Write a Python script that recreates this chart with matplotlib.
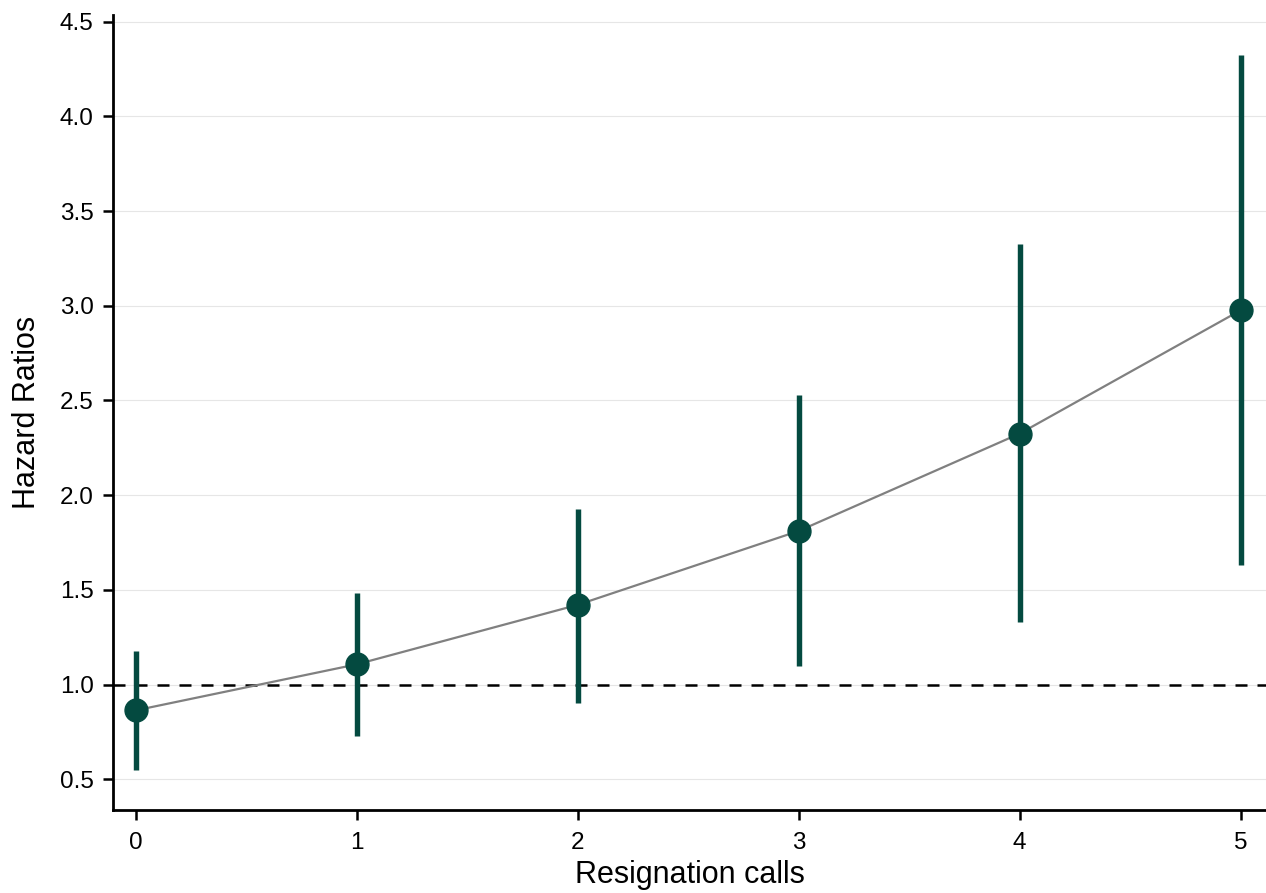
import matplotlib
matplotlib.use("Agg")
import matplotlib.pyplot as plt
import numpy as np

# resignation calls and hazard ratios with confidence bounds
calls = [0, 1, 2, 3, 4, 5]
hr = [0.864, 1.107, 1.421, 1.811, 2.325, 2.976]
ci_low = [0.547, 0.728, 0.902, 1.097, 1.329, 1.630]
ci_high = [1.176, 1.484, 1.925, 2.531, 3.325, 4.325]
yticks = [0.5, 1.0, 1.5, 2.0, 2.5, 3.0, 3.5, 4.0, 4.5]

plt.rcParams['font.family'] = ['Liberation Sans', 'DejaVu Sans']

fig = plt.figure(figsize=(12.66, 8.93), dpi=100)
ax = fig.add_axes([113 / 1266, 1 - 810 / 893, 1 - 113 / 1266, (810 - 15) / 893])

dark = '#044a40'

for y in yticks:
    ax.axhline(y, color='#e6e6e6', lw=0.8, zorder=0)

ax.axhline(1.0, color='black', lw=1.8, dashes=(4.8, 4.0), zorder=1)

ax.plot(calls, hr, color='#808080', lw=1.6, zorder=2)
ax.vlines(calls, ci_low, ci_high, color=dark, lw=3.9, zorder=3)
ax.plot(calls, hr, 'o', color=dark, ms=16.5, zorder=4, linestyle='none')

ax.set_xlim(-0.103, 5.115)
ax.set_ylim(0.338, 4.535)
ax.set_xticks(calls)
ax.set_yticks(yticks)
ax.set_yticklabels(["%.1f" % v for v in yticks])

for side in ['top', 'right']:
    ax.spines[side].set_visible(False)
for side in ['left', 'bottom']:
    ax.spines[side].set_linewidth(2.0)

ax.tick_params(axis='both', direction='out', length=7, width=1.8, labelsize=17.5)
ax.tick_params(axis='y', pad=7)
ax.tick_params(axis='x', pad=9)

ax.set_ylabel('Hazard Ratios', fontsize=22, labelpad=13)
ax.set_xlabel('Resignation calls', fontsize=22, labelpad=4)

fig.savefig('out.png', dpi=100)
